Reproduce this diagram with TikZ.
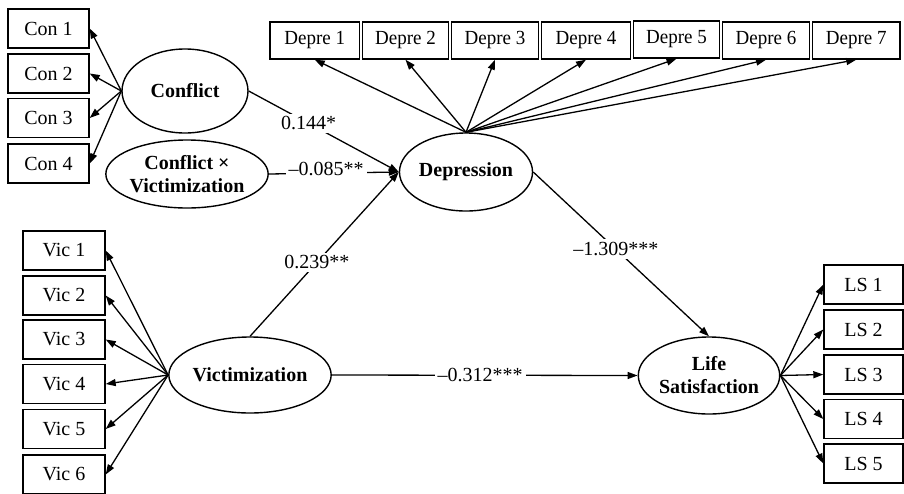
\documentclass[tikz,border=0pt]{standalone}
\usepackage{fontspec}
\setmainfont{Liberation Serif}
\usepackage{graphicx}
\usetikzlibrary{shapes.geometric,arrows.meta}
\begin{document}
\begin{tikzpicture}[x=1pt,y=-1pt,
  every node/.style={font=\fontsize{20}{23}\selectfont},
  obs/.style={draw, line width=1.4pt, rectangle, inner sep=0pt, minimum height=39pt},
  dbox/.style={draw, line width=1.4pt, rectangle, inner sep=0pt, minimum height=37pt},
  lat/.style={draw, line width=1.4pt, ellipse, inner sep=0pt, align=center, font=\fontsize{20}{23}\selectfont\bfseries},
  ar/.style={line width=1.3pt, -{Triangle[length=10pt,width=7pt]}},
  lab/.style={fill=white, inner sep=3pt}
]
\useasboundingbox[fill=white] (0,0) rectangle (904,493);

% Conflict indicators
\node[obs, minimum width=81pt] (c1) at (48.5,28.5) {Con 1};
\node[obs, minimum width=81pt] (c2) at (48.5,73.5) {Con 2};
\node[obs, minimum width=81pt] (c3) at (48.5,118) {Con 3};
\node[obs, minimum width=81pt] (c4) at (48.5,163.5) {Con 4};

% Depression indicators
\node[dbox, minimum width=89.5pt] (d1) at (314.75,40.5) {\scalebox{0.95}[1]{Depre 1}};
\node[dbox, minimum width=86pt]   (d2) at (405.5,40.5) {\scalebox{0.95}[1]{Depre 2}};
\node[dbox, minimum width=87pt]   (d3) at (495,40.5) {\scalebox{0.95}[1]{Depre 3}};
\node[dbox, minimum width=89pt]   (d4) at (586,40.5) {\scalebox{0.95}[1]{Depre 4}};
\node[dbox, minimum width=86pt]   (d5) at (676.5,39.5) {\scalebox{0.95}[1]{Depre 5}};
\node[dbox, minimum width=87pt]   (d6) at (766,40.5) {\scalebox{0.95}[1]{Depre 6}};
\node[dbox, minimum width=87.5pt] (d7) at (856.25,40.5) {\scalebox{0.95}[1]{Depre 7}};

% Victimization indicators
\node[obs, minimum width=82pt] (v1) at (64,250.5) {Vic 1};
\node[obs, minimum width=82pt] (v2) at (64,295.5) {Vic 2};
\node[obs, minimum width=82pt] (v3) at (64,339.5) {Vic 3};
\node[obs, minimum width=82pt] (v4) at (64,384) {Vic 4};
\node[obs, minimum width=82pt] (v5) at (64,429) {Vic 5};
\node[obs, minimum width=82pt] (v6) at (64,474.5) {Vic 6};

% Life satisfaction indicators
\node[obs, minimum width=79pt] (l1) at (863.5,284.5) {LS 1};
\node[obs, minimum width=79pt] (l2) at (863.5,329.5) {LS 2};
\node[obs, minimum width=79pt] (l3) at (863.5,374.5) {LS 3};
\node[obs, minimum width=79pt] (l4) at (863.5,419) {LS 4};
\node[obs, minimum width=79pt] (l5) at (863.5,463.5) {LS 5};

% Latent variables
\node[lat, minimum width=126pt, minimum height=84pt] (conf) at (185,91) {Conflict};
\node[lat, minimum width=132pt, minimum height=68pt] (cxv) at (187,174) {Conflict \texttimes\\Victimization};
\node[lat, minimum width=125pt, minimum height=78pt] (dep) at (466,172) {Depression};
\node[lat, minimum width=136pt, minimum height=76pt] (vic) at (250,375) {Victimization};
\node[lat, minimum width=126pt, minimum height=77pt] (ls) at (709,375.5) {Life\\Satisfaction};

% Measurement arrows
\foreach \i in {1,...,4} \draw[ar] (conf.west) -- (c\i.east);
\foreach \i in {1,...,7} \draw[ar] (dep.north) -- (d\i.south);
\foreach \i in {1,...,6} \draw[ar] (vic.west) -- (v\i.east);
\foreach \i in {1,...,5} \draw[ar] (ls.east) -- (l\i.west);

% Structural paths
\draw[ar] (conf.east) -- node[lab,pos=0.4] {0.144*} (dep.west);
\draw[ar] (cxv.east) -- node[lab,pos=0.44,yshift=4pt] {\textendash0.085**} (dep.west);
\draw[ar] (vic.north) -- node[lab,pos=0.45] {0.239**} (dep.west);
\draw[ar] (dep.east) -- node[lab,pos=0.47] {\textendash1.309***} (ls.north);
\draw[ar] (vic.east) -- node[lab,pos=0.485] {\textendash0.312***} (ls.west);
\end{tikzpicture}
\end{document}
